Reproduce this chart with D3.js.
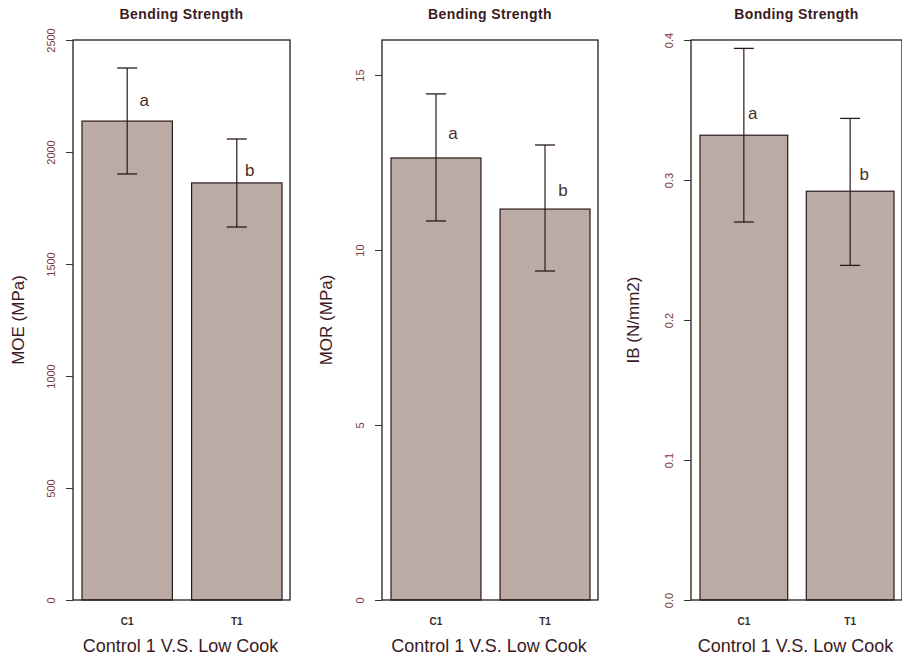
<!DOCTYPE html>
<html><head><meta charset="utf-8">
<script src="https://cdn.jsdelivr.net/npm/d3@7"></script>
<style>body{margin:0;background:#fff}svg{display:block}</style>
</head><body>
<script>
// ---- data ----
const categories = ["C1", "T1"];
const titles = ["Bending Strength", "Bending Strength", "Bonding Strength"];
const yLabels = ["MOE (MPa)", "MOR (MPa)", "IB (N/mm2)"];
const xTitle = "Control 1 V.S. Low Cook";
const moeMean = [2138, 1862];
const moeLow = [1902, 1665];
const moeHigh = [2375, 2058];
const morMean = [12.63, 11.17];
const morLow = [10.83, 9.40];
const morHigh = [14.46, 13.0];
const ibMean = [0.332, 0.292];
const ibLow = [0.270, 0.239];
const ibHigh = [0.394, 0.344];
const letters = ["a", "b"];
const moeLetterY = [2232, 1920];
const morLetterY = [13.34, 11.71];
const ibLetterY = [0.348, 0.304];
const moeTicks = [0, 500, 1000, 1500, 2000, 2500];
const morTicks = [0, 5, 10, 15];
const ibTicks = [0, 0.1, 0.2, 0.3, 0.4];
const tickFormats = [d => String(d), d => String(d), d => d.toFixed(1)];
const yMax = [2500, 16, 0.4];

const panels = [
  {mean: moeMean, low: moeLow, high: moeHigh, ly: moeLetterY, ticks: moeTicks, left: 73, width: 217, lx: [17, 13]},
  {mean: morMean, low: morLow, high: morHigh, ly: morLetterY, ticks: morTicks, left: 382, width: 216, lx: [17, 18]},
  {mean: ibMean, low: ibLow, high: ibHigh, ly: ibLetterY, ticks: ibTicks, left: 691, width: 211, lx: [9, 14]}
];

const W = 902, H = 657, plotTop = 40, plotBottom = 600;
const barFill = "#bcaba5", dark = "#2a1a1a", tickCol = "#7a3a3a", textCol = "#3a1a1e";
const font = "'Liberation Sans', Arial, sans-serif";

const svg = d3.select("body").append("svg").attr("width", W).attr("height", H);

panels.forEach((p, i) => {
  const g = svg.append("g");
  const y = d3.scaleLinear().domain([0, yMax[i]]).range([plotBottom, plotTop]);
  const x = d3.scaleBand().domain(categories)
    .range([p.left + 9, p.left + p.width - 8]).paddingInner(0.175).paddingOuter(0);

  // bars
  g.selectAll("rect.bar").data(categories).join("rect")
    .attr("x", d => x(d)).attr("width", x.bandwidth())
    .attr("y", (d, j) => y(p.mean[j])).attr("height", (d, j) => y(0) - y(p.mean[j]))
    .attr("fill", barFill).attr("stroke", dark).attr("stroke-width", 1.2);

  // error bars
  const cx = d => x(d) + x.bandwidth() / 2;
  g.selectAll("line.err").data(categories).join("line")
    .attr("x1", cx).attr("x2", cx)
    .attr("y1", (d, j) => y(p.low[j])).attr("y2", (d, j) => y(p.high[j]))
    .attr("stroke", dark).attr("stroke-width", 1.2);
  [p.low, p.high].forEach(arr => {
    g.selectAll(null).data(categories).join("line")
      .attr("x1", d => cx(d) - 10).attr("x2", d => cx(d) + 10)
      .attr("y1", (d, j) => y(arr[j])).attr("y2", (d, j) => y(arr[j]))
      .attr("stroke", dark).attr("stroke-width", 1.3);
  });

  // letters
  g.selectAll("text.let").data(categories).join("text")
    .attr("x", (d, j) => cx(d) + p.lx[j]).attr("y", (d, j) => y(p.ly[j]))
    .attr("dy", "0.35em").attr("text-anchor", "middle")
    .attr("font-family", font).attr("font-size", 17).attr("fill", "#4a2e26")
    .text((d, j) => letters[j]);

  // box
  g.append("rect").attr("x", p.left).attr("y", plotTop).attr("width", p.width).attr("height", plotBottom - plotTop)
    .attr("fill", "none").attr("stroke", dark).attr("stroke-width", 1.3);

  // y axis
  const ax = g.append("g").attr("transform", `translate(${p.left},0)`)
    .call(d3.axisLeft(y).tickValues(p.ticks).tickSize(7).tickFormat(tickFormats[i]));
  ax.select(".domain").remove();
  ax.selectAll(".tick line").attr("stroke", "#333");
  ax.selectAll(".tick text").attr("x", null).attr("dy", null)
    .attr("transform", "translate(-21,0) rotate(-90)")
    .attr("text-anchor", "middle").attr("dominant-baseline", "middle")
    .attr("font-family", font).attr("font-size", 11).attr("fill", tickCol);

  // category labels
  g.selectAll("text.cat").data(categories).join("text")
    .attr("x", cx).attr("y", 625).attr("text-anchor", "middle")
    .attr("font-family", font).attr("font-size", 10).attr("font-weight", "bold").attr("fill", "#3a2a2a")
    .text(d => d);

  // x title
  g.append("text").attr("x", p.left + p.width / 2 - 1).attr("y", 652).attr("text-anchor", "middle")
    .attr("font-family", font).attr("font-size", 18).attr("fill", textCol).text(xTitle);

  // main title
  g.append("text").attr("x", p.left + p.width / 2).attr("y", 19).attr("text-anchor", "middle")
    .attr("font-family", font).attr("font-size", 14).attr("font-weight", "bold").attr("fill", textCol)
    .attr("letter-spacing", 0.4)
    .text(titles[i]);

  // y label
  const lxPos = [20, 328, 635][i];
  g.append("text").attr("transform", `translate(${lxPos},320) rotate(-90)`)
    .attr("text-anchor", "middle").attr("dominant-baseline", "middle")
    .attr("font-family", font).attr("font-size", 17).attr("fill", textCol).text(yLabels[i]);
});
</script>
</body></html>
